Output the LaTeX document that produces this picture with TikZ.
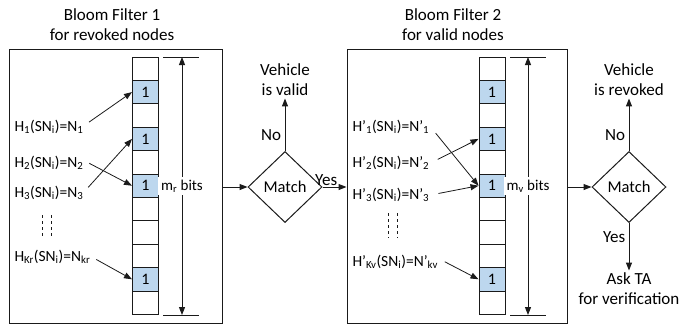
\documentclass[tikz,border=0pt]{standalone}
\usepackage{fontspec}
\setmainfont{Carlito}
\usepackage{xcolor}
\usepackage{tikz}
\usetikzlibrary{
  arrows.meta,
  positioning,
  shapes.geometric,
  calc
}
\definecolor{BitBlue}{HTML}{BDD7EE}
\definecolor{LineDark}{HTML}{1A1A1A}
\newcommand{\sbs}[1]{\textsubscript{#1}}

\begin{document}
\begin{tikzpicture}[x=1pt,y=-1pt,line width=1pt,draw=LineDark,
    font=\fontsize{15}{20}\selectfont,
    bigtext/.style={font=\fontsize{17}{20}\selectfont},
    filterbox/.style={draw,minimum height=274pt,inner sep=0pt},
    bitcell/.style={draw,minimum width=26pt,minimum height=23.4pt,inner sep=0pt,font=\fontsize{16}{18}\selectfont},
    setbit/.style={bitcell,fill=BitBlue},
    hashlbl/.style={anchor=west,inner sep=1pt,font=\fontsize{15.5}{18}\selectfont},
    hash/.style={-{Triangle[width=6pt,length=8pt]},line width=0.8pt,shorten <=5pt},
    flow/.style={-{Triangle[width=6pt,length=8pt]}},
    dim/.style={{Triangle[width=6pt,length=8pt]}-{Triangle[width=6pt,length=8pt]}},
    match/.style={diamond,draw,minimum width=74pt,minimum height=71pt,inner sep=0pt,font=\fontsize{16.5}{18}\selectfont},
    outcome/.style={bigtext,align=center,inner sep=2pt}]
  \useasboundingbox (0,0) rectangle (689,325);

  % filter 1: revoked nodes
  \node[bigtext,align=center] (titleA) at (112,25) {Bloom Filter 1\\for revoked nodes};
  \node[filterbox,minimum width=213pt] (filterA) at (115.5,186) {};
  \foreach \i in {0,...,10} {
    \node[bitcell] (bitA-\i) at (145.5,{57+23.4*(\i+0.5)}) {};
  }
  \foreach \i in {1,3,5,9} {
    \node[setbit] (oneA-\i) at (bitA-\i) {1};
  }
  \coordinate (dimA-top) at (182,57);
  \coordinate (dimA-bot) at (182,315);
  \draw (163,57) -- (199,57);
  \draw (163,315) -- (199,315);
  \draw[dim] (dimA-top) -- node[fill=white,inner sep=3pt] (sizeA) {m\sbs{r} bits} (dimA-bot);

  \node[hashlbl] (hA1) at (13,127) {H\sbs{1}(SN\sbs{i})=N\sbs{1}};
  \node[hashlbl] (hA2) at (13,163) {H\sbs{2}(SN\sbs{i})=N\sbs{2}};
  \node[hashlbl] (hA3) at (13,193) {H\sbs{3}(SN\sbs{i})=N\sbs{3}};
  \node[hashlbl] (hAk) at (13,257) {H\sbs{Kr}(SN\sbs{i})=N\sbs{kr}};
  \draw[dashed,line width=0.7pt] (42,215) -- (42,238) (51,215) -- (51,238);
  \draw[hash] ($(hA1.east)+(0,-2)$) -- (bitA-1.west);
  \draw[hash] ($(hA2.east)+(0,-2)$) -- (bitA-5.west);
  \draw[hash] ($(hA3.east)+(0,-2)$) -- (bitA-3.west);
  \draw[hash] (hAk.east) -- (bitA-9.west);

  % first check
  \node[match] (matchA) at (285,187) {Match};
  \node[outcome] (outA) at (285,80) {Vehicle\\is valid};
  \draw[flow] (filterA.east |- matchA.west) -- (matchA.west);
  \draw[flow] (matchA.north) -- node[left,pos=0.3,bigtext] (noA) {No} (outA.south);

  % filter 2: valid nodes
  \node[bigtext,align=center] (titleB) at (453,25) {Bloom Filter 2\\for valid nodes};
  \node[filterbox,minimum width=220pt] (filterB) at (457,186) {};
  \foreach \i in {0,...,10} {
    \node[bitcell] (bitB-\i) at (492,{57+23.4*(\i+0.5)}) {};
  }
  \foreach \i in {1,3,5,9} {
    \node[setbit] (oneB-\i) at (bitB-\i) {1};
  }
  \coordinate (dimB-top) at (528,57);
  \coordinate (dimB-bot) at (528,315);
  \draw (510,57) -- (546,57);
  \draw (510,315) -- (546,315);
  \draw[dim] (dimB-top) -- node[fill=white,inner sep=3pt] (sizeB) {m\sbs{v} bits} (dimB-bot);

  \draw[flow] (matchA.east) -- node[above,pos=0.15,inner sep=1pt,bigtext] (yesA) {Yes} (filterB.west |- matchA.east);

  \node[hashlbl] (hB1) at (351,127) {H’\sbs{1}(SN\sbs{i})=N’\sbs{1}};
  \node[hashlbl] (hB2) at (351,163) {H’\sbs{2}(SN\sbs{i})=N’\sbs{2}};
  \node[hashlbl] (hB3) at (351,195) {H’\sbs{3}(SN\sbs{i})=N’\sbs{3}};
  \node[hashlbl] (hBk) at (351,262) {H’\sbs{Kv}(SN\sbs{i})=N’\sbs{kv}};
  \draw[dashed,line width=0.7pt] (388,213) -- (388,238) (397,213) -- (397,238);
  \draw[hash,shorten <=8pt] (hB1.east) -- (bitB-5.west);
  \draw[hash,shorten <=8pt] (hB2.east) -- (bitB-3.west);
  \draw[hash,shorten <=8pt] (hB3.east) -- (bitB-5.west);
  \draw[hash,shorten <=6pt] ($(hBk.east)+(0,-3)$) -- (bitB-9.west);

  % second check
  \node[match] (matchB) at (629,187) {Match};
  \node[outcome] (outB) at (629,80) {Vehicle\\is revoked};
  \node[outcome] (askB) at (629,289) {Ask TA\\for verification};
  \draw[flow] (filterB.east |- matchB.west) -- (matchB.west);
  \draw[flow] (matchB.north) -- node[left,pos=0.3,bigtext] (noB) {No} (outB.south);
  \draw[flow] (matchB.south) -- node[left,pos=0.3,bigtext] (yesB) {Yes} (askB.north);
\end{tikzpicture}
\end{document}
